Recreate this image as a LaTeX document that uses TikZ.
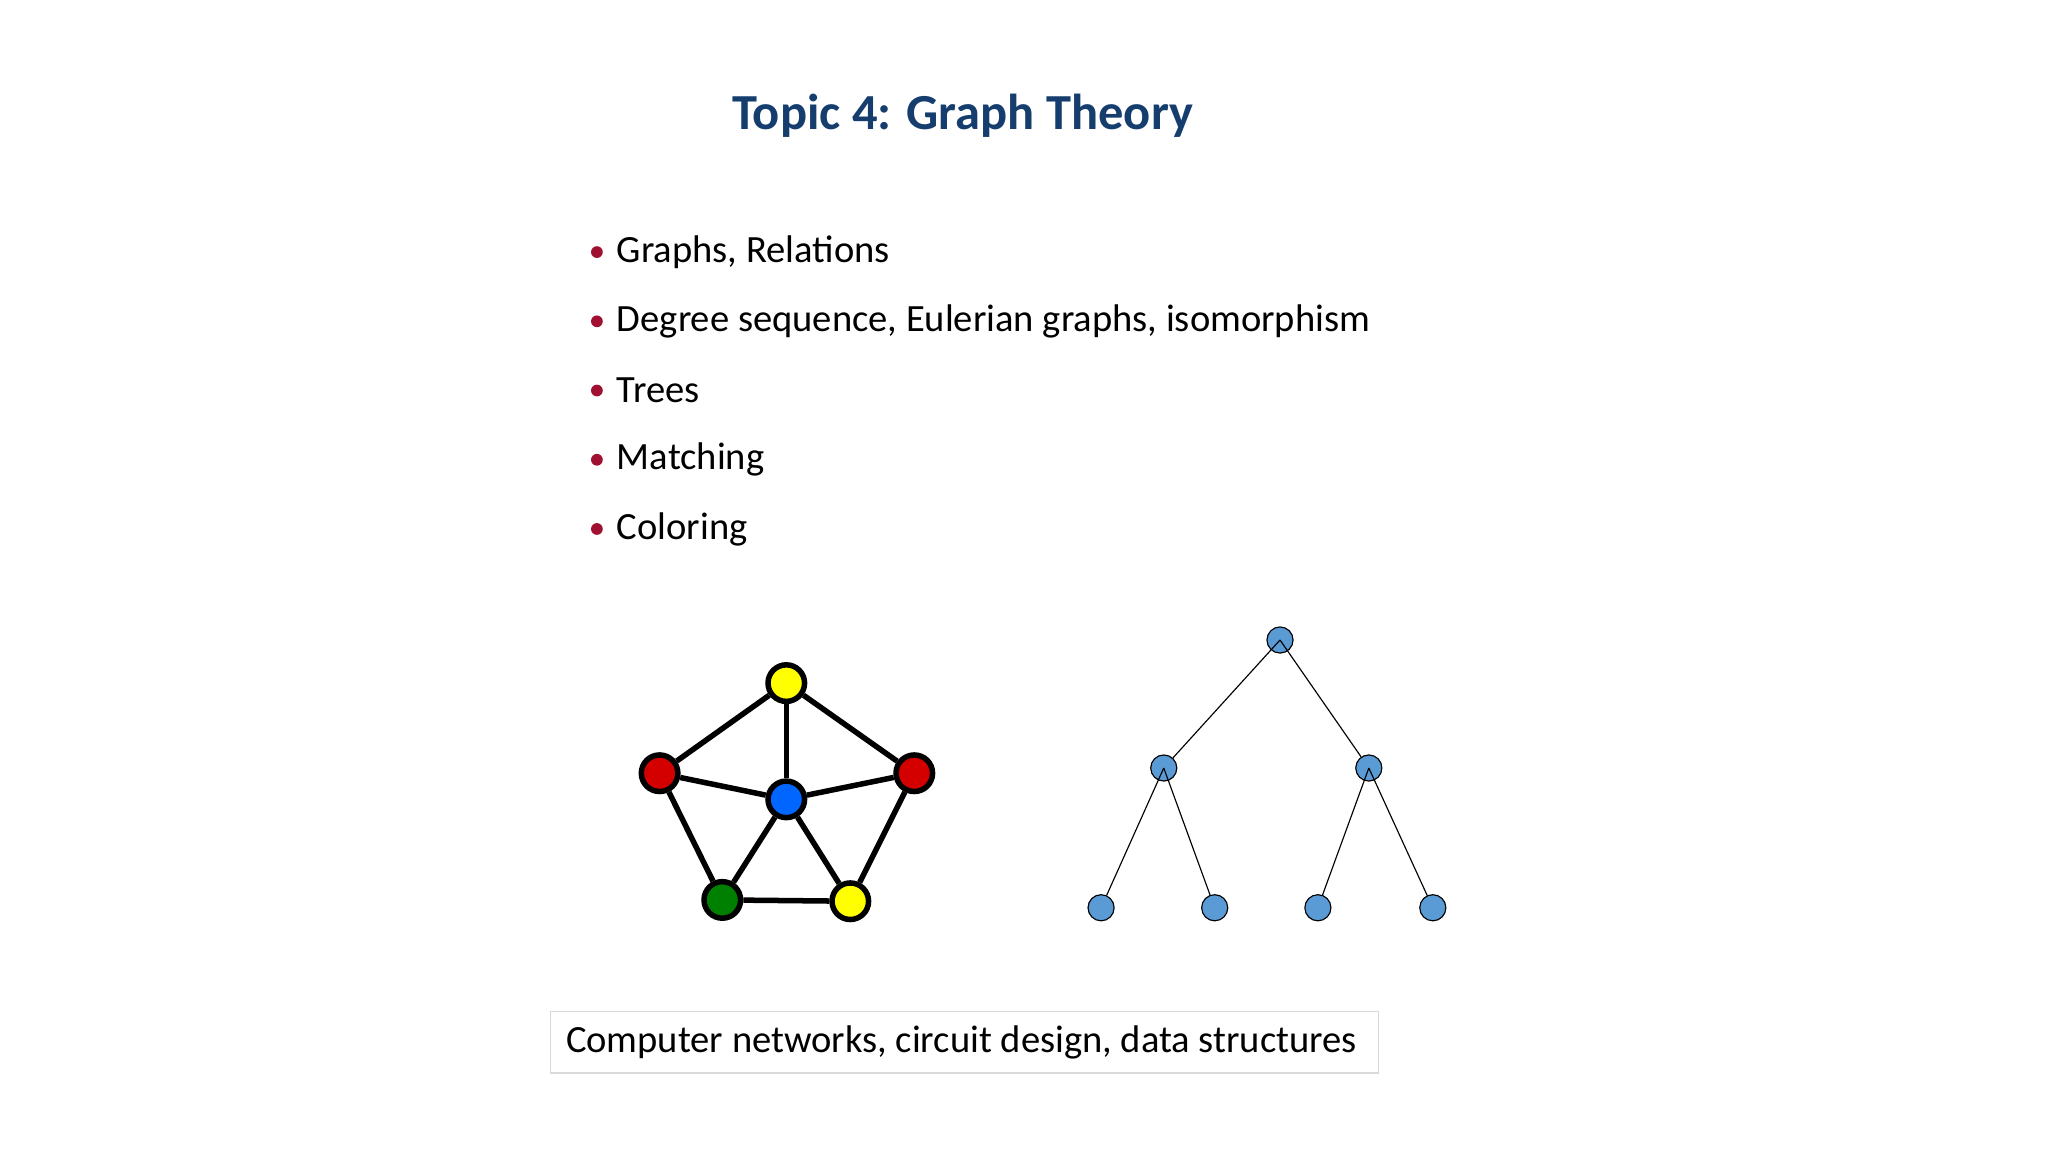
\documentclass[tikz,border=0pt]{standalone}
\usepackage{fontspec}
\setmainfont{Carlito}
\definecolor{navy}{HTML}{153E6E}
\definecolor{bul}{HTML}{A01030}
\definecolor{treeb}{HTML}{5B9BD5}
\definecolor{gyel}{HTML}{FFFF00}
\definecolor{gred}{HTML}{D40000}
\definecolor{gblue}{HTML}{0066FF}
\definecolor{ggreen}{HTML}{008000}
\begin{document}
\begin{tikzpicture}[x=0.02cm,y=-0.02cm,
  gv/.style={circle,draw=black,line width=2.4pt,minimum size=0.56cm,inner sep=0pt},
  tv/.style={circle,draw=black,line width=0.5pt,fill=treeb,minimum size=0.4cm,inner sep=0pt},
  ge/.style={line width=2.4pt},
  te/.style={line width=0.5pt},
  item/.style={anchor=west,font=\fontsize{16.8}{20}\selectfont,inner sep=0pt},
  dot/.style={circle,fill=bul,inner sep=0pt,minimum size=0.18cm}]
\useasboundingbox[fill=white] (0,0) rectangle (1568,882);
\node[font=\fontsize{22}{26}\selectfont\bfseries,text=navy] (title) at (737,89) {Topic 4: Graph Theory};
\foreach \y/\t [count=\i] in {193/{Graphs, Relations},246/{Degree sequence, Eulerian graphs, isomorphism},299/Trees,352/Matching,405/Coloring}{
  \node[dot] (d\i) at (457,\y) {};
  \node[item] (b\i) at (472,\y) {\t};
}
% coloured graph
\node[gv,fill=gyel] (t) at (602,523) {};
\node[gv,fill=gred] (l) at (505,592) {};
\node[gv,fill=gred] (r) at (700,592) {};
\node[gv,fill=gblue] (c) at (602,612) {};
\node[gv,fill=ggreen] (g) at (553,689) {};
\node[gv,fill=gyel] (y) at (651,690) {};
\foreach \a/\b in {t/l,t/r,t/c,l/c,r/c,l/g,r/y,g/y,c/g,c/y}
  \draw[ge] (\a) -- (\b);
% tree
\node[tv] (n0) at (980,490) {};
\node[tv] (n1) at (891,588) {};
\node[tv] (n2) at (1048,588) {};
\node[tv] (n3) at (843,695) {};
\node[tv] (n4) at (930,695) {};
\node[tv] (n5) at (1009,695) {};
\node[tv] (n6) at (1097,695) {};
\foreach \a/\b in {n0/n1,n0/n2,n1/n3,n1/n4,n2/n5,n2/n6}
  \draw[te] (\a.center) -- (\b);
\node[draw=black!15,line width=0.6pt,minimum width=634*0.02cm,minimum height=47*0.02cm,anchor=north west] (box) at (421,774) {};
\node[item] (bt) at (433,798) {Computer networks, circuit design, data structures};
\end{tikzpicture}
\end{document}
